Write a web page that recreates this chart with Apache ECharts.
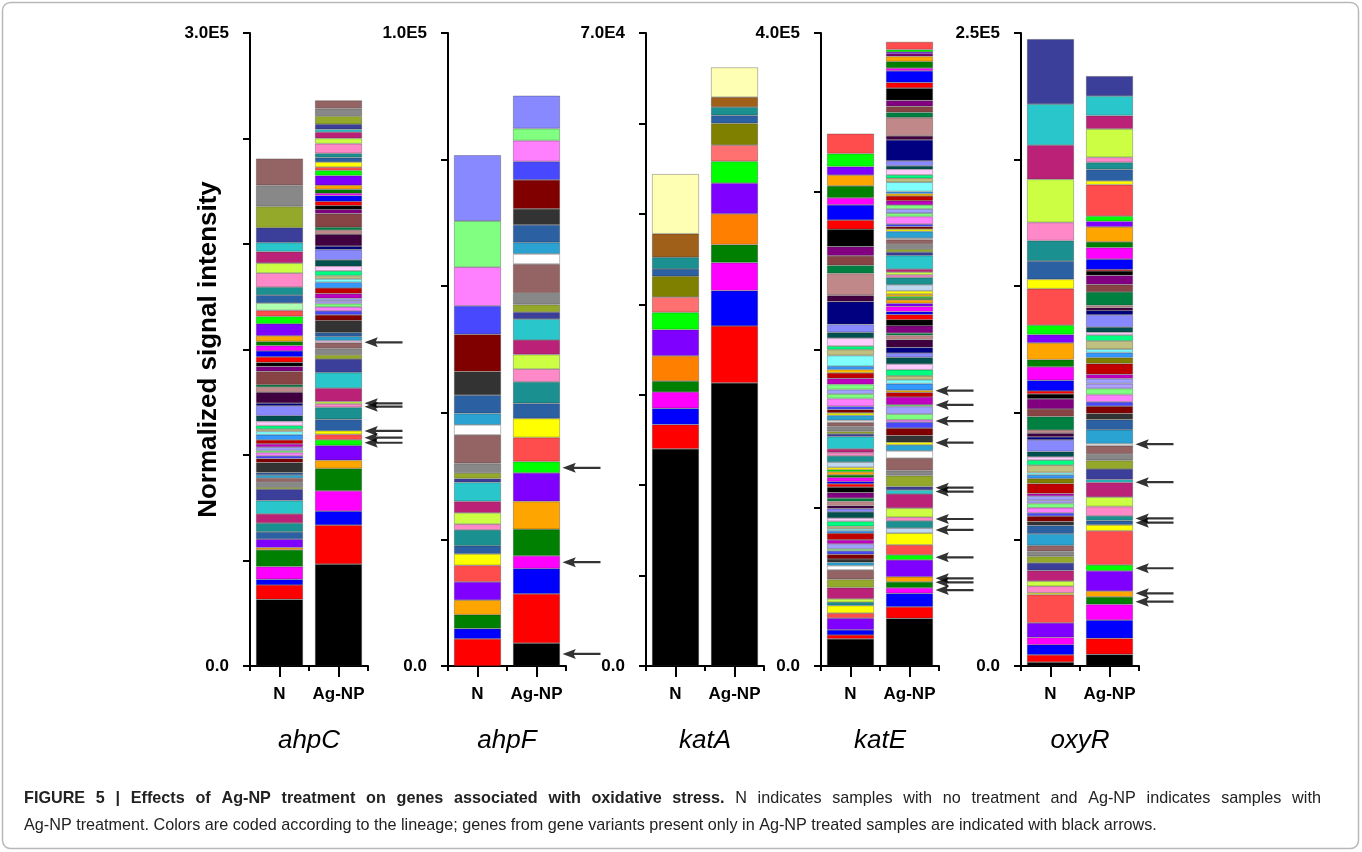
<!DOCTYPE html>
<html><head><meta charset="utf-8">
<script src="https://cdn.jsdelivr.net/npm/echarts@6.0.0/dist/echarts.min.js"></script>
<style>html,body{margin:0;padding:0;background:#fff}#c{width:1362px;height:852px}</style>
</head><body><div id="c"></div>
<script>
// ---------------- DATA ----------------
const categories = ['N', 'Ag-NP'];
const genes = ['ahpC', 'ahpF', 'katA', 'katE', 'oxyR'];
const axisMax = [300000, 100000, 70000, 400000, 250000];
const axisInterval = [50000, 20000, 10000, 100000, 50000];
const axisTopLabels = ['3.0E5', '1.0E5', '7.0E4', '4.0E5', '2.5E5'];
const axisZeroLabel = '0.0';

// lineage ids, listed bottom -> top; values are segment heights (normalized signal intensity)
const ahpC_N_lineage = [0,1,2,3,4,5,6,11,12,15,16,17,18,19,20,21,11,22,23,24,25,26,27,28,29,30,31,32,33,34,35,36,37,38,39,40,41,42,0,1,2,3,4,5,6,7,8,9,11,12,13,14,15,16,17,18,19,20];
const ahpC_N_values = [31600,6800,2700,6000,7900,1100,4000,3500,4100,4400,6300,5400,950,2400,1900,1400,1200,4700,1900,1300,1600,950,1600,1600,1900,2400,1600,1100,1600,2000,2700,4700,1300,5200,2400,1100,6300,2400,1900,2600,2800,2500,2000,2700,5700,3500,2800,3500,3800,3800,6600,4700,5500,4300,7000,10100,10000,12700];
const ahpC_Ag_lineage = [0,1,2,3,4,5,6,7,8,10,11,12,13,14,15,16,17,18,19,20,34,21,11,22,23,24,25,26,51,27,28,29,30,31,32,33,34,35,36,37,38,39,40,41,42,0,1,2,3,4,5,6,7,8,10,11,12,13,14,15,16,17,18,19,20];
const ahpC_Ag_values = [48300,18500,6600,9600,10600,3900,7000,2700,2600,1700,5400,5700,1600,1100,6400,7400,6400,2000,3000,2800,950,1900,1900,5700,2700,1800,1900,1600,1300,1200,2200,2700,2700,1600,1600,2200,2200,3000,4900,1600,5700,1900,1400,6400,2000,1900,1900,2800,1100,1800,2000,4600,2400,1600,2400,2100,2000,4600,2500,3000,1300,2400,3900,3500,3900];
const ahpC_arrows = [153400, 124500, 122900, 111400, 108200, 105800];

const ahpF_N_lineage = [1,2,4,5,6,8,10,11,12,13,14,15,16,17,18,19,20,43,21,11,22,23,24,25,26,36];
const ahpF_N_values = [4300,1600,2200,2300,2900,2600,1800,1300,2500,900,1800,1800,3000,600,900,1500,4500,1600,1800,2900,3700,5900,4500,6100,7300,10400];
const ahpF_Ag_lineage = [0,1,2,3,4,5,6,7,8,10,11,12,13,14,15,16,17,18,19,20,43,21,11,22,23,24,25,26,36];
const ahpF_Ag_values = [3600,7800,4000,2000,4200,4400,4500,1800,3800,3000,2400,3400,2000,2300,2300,3300,1100,1200,1800,4600,1600,1800,2800,2500,4600,2900,3300,1900,5200];
const ahpF_arrows = [31300, 16400, 1900];

const katA_N_lineage = [0,1,2,3,4,48,6,7,47,46,11,12,45,44];
const katA_N_values = [24000,2700,1800,1800,1200,2800,2900,1900,1700,2300,800,1300,2600,6600];
const katA_Ag_lineage = [0,1,2,3,4,48,6,7,47,46,11,12,45,44];
const katA_Ag_values = [31300,6300,3900,3100,2000,3400,3400,2400,1800,2400,900,900,1100,3300];
const katA_arrows = [];

const katE_N_lineage = [0,1,2,6,8,10,12,14,15,18,20,43,21,22,23,24,26,27,28,29,30,31,32,33,34,35,36,38,39,40,42,0,1,2,3,4,5,7,10,49,12,13,15,16,17,18,19,20,43,21,10,23,24,25,26,27,26,28,29,50,30,31,32,33,34,35,36,37,38,39,40,41,42,0,1,2,3,4,5,6,7,8];
const katE_N_values = [17100,2500,3200,7400,3200,4800,2100,2100,7100,5300,5900,2700,2100,2100,3000,2100,1300,3200,2500,4200,1500,1300,1500,3200,2100,3800,2100,1900,2700,2100,3500,3400,2100,1500,2500,1700,1900,1300,1500,3300,4000,2100,2300,7800,1700,1500,3200,2500,1300,3200,1500,2100,2100,4900,2900,2800,3200,3800,3500,2100,2100,6800,3800,2100,5100,3600,5100,14300,4000,13900,5100,5900,5900,11000,5700,9700,4400,7600,6800,5400,8200,12600];
const katE_Ag_lineage = [0,1,2,3,4,5,6,7,8,10,49,12,13,14,15,16,17,18,19,20,43,21,10,22,23,24,25,26,27,26,28,29,50,30,31,32,33,34,35,36,37,38,39,40,42,0,1,2,3,6,5,4,7,50,10,49,12,13,14,15,16,17,18,19,20,43,21,10,23,24,25,26,27,26,28,29,50,30,31,32,33,34,35,36,37,38,39,40,41,42,0,1,2,3,4,5,42,6,7,8];
const katE_Ag_values = [30100,7300,8500,3500,3800,3200,10600,3200,6300,7400,3200,4600,2300,5700,9000,2500,2100,7000,3200,7800,4600,3800,1700,4200,4700,3800,1500,3600,4800,1100,4900,2900,1300,4200,2500,2500,3800,3600,4200,2800,3500,4900,2700,1500,4600,3800,3200,1900,3300,1900,2300,1100,1000,1500,2100,3800,4600,1700,1700,1900,8600,2100,1900,3200,2900,900,4200,1500,1600,1500,4800,2100,2700,2500,2700,3000,1500,1300,5900,2500,2100,3600,2100,3200,13300,2500,11600,3200,3800,3800,7800,3500,7400,1700,4200,3200,1700,1100,1500,4900];
const katE_arrows = [174000, 165000, 154800, 141100, 112700, 110200, 92900, 86000, 68700, 55400, 52900, 48000];

const oxyR_N_lineage = [0,1,2,3,6,8,10,13,14,15,17,18,19,20,21,11,22,23,24,25,26,51,27,28,29,46,30,31,32,33,34,35,36,37,38,39,40,41,42,0,1,2,3,4,5,6,7,8,10,11,12,13,14,15,16,17];
const oxyR_N_values = [1500,2900,4000,2900,5700,11200,700,2600,2000,4200,3000,2600,2000,2300,4600,3300,1500,2200,1300,2000,1700,1200,1700,950,4000,2000,1400,950,2900,2000,1300,2100,4600,1200,1500,1200,5300,3000,4000,2000,1100,4200,5300,2900,6600,3300,3700,14400,3700,7200,8100,7200,17000,13500,16200,25700];
const oxyR_Ag_lineage = [0,1,2,3,4,5,6,7,8,10,11,12,13,14,15,16,17,18,19,20,43,21,11,22,23,24,25,26,51,27,28,29,46,30,31,32,33,34,35,36,37,38,39,40,41,42,0,1,2,3,4,5,6,7,8,10,11,12,13,14,15,16,17];
const oxyR_Ag_values = [4600,6300,7200,6200,3000,2300,8000,2300,13500,2300,1700,1900,3700,3700,5800,1100,4200,3400,2500,3300,800,5500,4000,2400,2900,1700,2900,2400,1900,2000,1700,4200,2400,2000,1300,3300,2300,1100,2000,4900,1700,1100,900,5300,2900,3700,1700,600,4100,4500,2300,5900,2200,2100,12400,1500,4500,2800,2000,11200,5300,7700,7900];
const oxyR_arrows = [87600, 72600, 58300, 56600, 38600, 28700, 25400];

const captionBold = 'FIGURE 5 | Effects of Ag-NP treatment on genes associated with oxidative stress.';
const captionLine1 = 'N indicates samples with no treatment and Ag-NP indicates samples with';
const captionLine2 = 'Ag-NP treatment. Colors are coded according to the lineage; genes from gene variants present only in Ag-NP treated samples are indicated with black arrows.';
const yTitle = 'Normalized signal intensity';

// ---------------- STYLE ----------------
const LINEAGE_COLORS = ['#000000','#ff0000','#0000ff','#ff00ff','#008000','#ffa500','#8000ff','#00ff00','#ff4c4c','#b0ffb0',
  '#ffff00','#2b60a3','#1a9090','#ff88c8','#ccff44','#bb2277','#29c6cc','#3b3f9a','#94a82a','#888888',
  '#946464','#2aa3d3','#333333','#800000','#4848ff','#ff80ff','#80ff80','#a0a0ff','#c000c0','#c00000',
  '#3399ff','#80ffff','#c0c080','#00ff80','#ffccff','#005050','#8888ff','#000080','#400040','#c08888',
  '#008040','#884444','#800080','#ffffff','#ffffb3','#a0601a','#808000','#ff7070','#ff8000','#c0d8f0',
  '#ffc000','#b0a0ff'];
const FONT = "'Liberation Sans', Arial, Helvetica, sans-serif";
const GRID_LEFT = [250, 448, 646, 821, 1021];
const ARROW = 'path://M0,5L14,0L12,3.9L40,3.9L40,6.1L12,6.1L14,10Z';
const CAPTION_FONT = 16.2;
const JUSTIFIED_SPACE = 10.7;

const panels = [
  {N:[ahpC_N_lineage, ahpC_N_values], A:[ahpC_Ag_lineage, ahpC_Ag_values], arrows: ahpC_arrows},
  {N:[ahpF_N_lineage, ahpF_N_values], A:[ahpF_Ag_lineage, ahpF_Ag_values], arrows: ahpF_arrows},
  {N:[katA_N_lineage, katA_N_values], A:[katA_Ag_lineage, katA_Ag_values], arrows: katA_arrows},
  {N:[katE_N_lineage, katE_N_values], A:[katE_Ag_lineage, katE_Ag_values], arrows: katE_arrows},
  {N:[oxyR_N_lineage, oxyR_N_values], A:[oxyR_Ag_lineage, oxyR_Ag_values], arrows: oxyR_arrows}
];

const grid = [], xAxis = [], yAxis = [], series = [];
panels.forEach((p, k) => {
  grid.push({left: GRID_LEFT[k], top: 33, width: 118, height: 633});
  xAxis.push({
    type: 'category', gridIndex: k, data: categories, position: 'bottom',
    axisLine: {show: true, lineStyle: {color: '#000', width: 2}},
    axisTick: {show: true, alignWithLabel: true, length: 11, lineStyle: {color: '#000', width: 2}},
    axisLabel: {show: true, interval: 0, color: '#000', fontWeight: 'bold', fontSize: 17, fontFamily: FONT, margin: 20},
    splitLine: {show: false},
    name: genes[k], nameLocation: 'middle', nameGap: 62, nameMoveOverlap: false,
    nameTextStyle: {fontStyle: 'italic', fontSize: 26, color: '#000', fontFamily: FONT}
  });
  xAxis.push({
    type: 'category', gridIndex: k, data: categories, position: 'bottom',
    axisLine: {show: false},
    axisTick: {show: true, length: 5, lineStyle: {color: '#000', width: 2}},
    axisLabel: {show: false}, splitLine: {show: false}
  });
  const ya = {
    type: 'value', gridIndex: k, min: 0, max: axisMax[k], interval: axisInterval[k],
    axisLine: {show: true, lineStyle: {color: '#000', width: 2}},
    axisTick: {show: true, length: 7, lineStyle: {color: '#000', width: 2}},
    axisLabel: {color: '#000', fontWeight: 'bold', fontSize: 17, fontFamily: FONT, margin: 21,
      formatter: v => v === 0 ? axisZeroLabel : (Math.abs(v - axisMax[k]) < 1e-6 ? axisTopLabels[k] : '')},
    splitLine: {show: false}
  };
  if (k === 0) {
    Object.assign(ya, {name: yTitle, nameLocation: 'middle', nameRotate: 90, nameGap: 28, nameMoveOverlap: false,
      nameTextStyle: {fontWeight: 'bold', fontSize: 26, color: '#000', fontFamily: FONT}});
  }
  yAxis.push(ya);

  [[0, p.N], [1, p.A]].forEach(([ci, pair]) => {
    const lin = pair[0], vals = pair[1];
    vals.forEach((v, i) => {
      series.push({
        type: 'bar', xAxisIndex: k * 2, yAxisIndex: k, stack: 'g' + k,
        barWidth: 47, silent: true,
        data: ci === 0 ? [v, '-'] : ['-', v],
        itemStyle: {color: LINEAGE_COLORS[lin[i]], borderColor: 'rgba(40,40,40,0.45)', borderWidth: 0.7}
      });
    });
  });
  if (p.arrows.length) {
    series.push({
      type: 'scatter', xAxisIndex: k * 2, yAxisIndex: k, z: 10, clip: false, silent: true,
      symbol: ARROW, symbolSize: [38, 10], symbolOffset: [45, 0],
      itemStyle: {color: '#000'},
      data: p.arrows.map(v => [categories[1], v])
    });
  }
});

// justified first caption line (journal style): widen inter-word spaces
const esc = s => s.replace(/[{}|]/g, m => m);
const boldWords = captionBold.split(' ').map(w => '{b|' + w + '}');
const normWords = captionLine1.split(' ').map(w => '{n|' + w + '}');
const line1Rich = boldWords.join('{s| }') + '{s| }' + normWords.join('{s| }');

const chart = echarts.init(document.getElementById('c'), null, {renderer: 'canvas'});
chart.setOption({
  animation: false,
  backgroundColor: '#fff',
  grid, xAxis, yAxis, series,
  graphic: [
    {type: 'rect', silent: true, shape: {x: 2.5, y: 2.5, width: 1356, height: 846, r: 8},
      style: {fill: 'none', stroke: '#b8b8b8', lineWidth: 1.5}},
    {type: 'text', silent: true, x: 24, y: 799,
      style: {text: line1Rich, fontSize: CAPTION_FONT, fontFamily: FONT, fill: '#222', verticalAlign: 'middle',
        rich: {
          b: {fontWeight: 'bold', fontSize: CAPTION_FONT, fontFamily: FONT, fill: '#222'},
          n: {fontSize: CAPTION_FONT, fontFamily: FONT, fill: '#222'},
          s: {fontSize: CAPTION_FONT, fontFamily: FONT, width: JUSTIFIED_SPACE}
        }}},
    {type: 'text', silent: true, x: 24, y: 826,
      style: {text: captionLine2, fontSize: CAPTION_FONT, fontFamily: FONT, fill: '#222', verticalAlign: 'middle'}}
  ]
});
</script></body></html>
